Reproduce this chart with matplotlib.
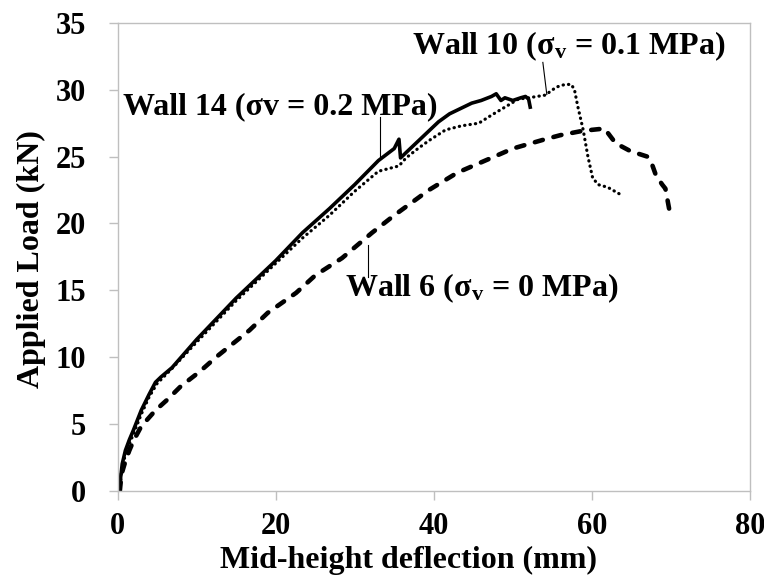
import matplotlib
matplotlib.use("Agg")
import matplotlib.pyplot as plt

# Wall 14 (sigma_v = 0.2 MPa) – solid
w14_x = [0.3, 0.4, 0.6, 1.0, 1.5, 2.0, 3.0, 4.0, 4.8, 5.5, 6.9, 10.0, 15.0, 20.0, 23.4,
         26.8, 30.0, 33.0, 35.0, 35.6, 35.8, 36.5, 40.6, 42.0, 44.8, 46.0, 47.3, 47.9,
         48.5, 49.0, 50.0, 51.0, 51.6, 52.0, 52.2]
w14_y = [0.0, 1.0, 2.0, 3.0, 3.8, 4.5, 6.0, 7.2, 8.1, 8.5, 9.2, 11.3, 14.4, 17.2, 19.3,
         21.1, 22.9, 24.7, 25.6, 26.3, 24.9, 25.3, 27.6, 28.2, 29.0, 29.2, 29.5, 29.7,
         29.2, 29.4, 29.2, 29.4, 29.5, 29.3, 28.7]

# Wall 10 (sigma_v = 0.1 MPa) – dotted
w10_x = [0.3, 0.5, 1.0, 1.5, 2.0, 3.0, 4.0, 5.0, 7.0, 10.0, 15.0, 20.0, 23.4, 26.8, 30.0,
         33.0, 35.6, 36.5, 38.0, 39.4, 41.5, 43.5, 45.7, 47.3, 49.0, 50.7, 52.0, 54.1,
         55.5, 56.6, 57.4, 57.8, 58.2, 58.9, 59.5, 60.1, 60.8, 62.0, 63.5]
w10_y = [0.0, 1.5, 2.7, 3.5, 4.2, 5.7, 7.0, 8.0, 9.2, 11.1, 14.2, 17.0, 18.9, 20.6, 22.4,
         23.9, 24.3, 24.9, 25.6, 26.2, 27.0, 27.3, 27.5, 28.1, 28.7, 29.3, 29.4, 29.6,
         30.2, 30.4, 30.4, 30.0, 28.8, 27.0, 25.0, 23.4, 22.9, 22.7, 22.2]

# Wall 6 (sigma_v = 0 MPa) – dashed
w6_x = [0.3, 0.5, 1.0, 1.5, 2.0, 3.0, 4.8, 6.3, 8.0, 10.4, 12.5, 14.6, 16.7, 19.0, 21.4,
        22.6, 25.0, 28.4, 31.6, 32.2, 35.0, 39.4, 43.0, 46.9, 50.0, 54.1, 56.0, 58.6,
        60.0, 61.6, 63.0, 64.9, 67.0, 67.5, 68.1, 68.9, 69.3, 69.8]
w6_y = [0.0, 1.2, 2.2, 3.0, 3.7, 4.8, 6.0, 6.8, 7.8, 8.9, 10.0, 11.0, 12.0, 13.3, 14.3,
        14.8, 16.1, 17.4, 19.0, 19.3, 20.6, 22.5, 23.8, 24.8, 25.6, 26.3, 26.6, 26.9,
        27.0, 27.1, 26.0, 25.4, 25.0, 24.6, 23.6, 22.9, 22.6, 21.0]

x_ticks = [0, 20, 40, 60, 80]
y_ticks = [0, 5, 10, 15, 20, 25, 30, 35]

plt.rcParams["font.family"] = ["Liberation Serif", "DejaVu Serif"]
plt.rcParams["font.weight"] = "bold"
plt.rcParams["mathtext.fontset"] = "custom"
plt.rcParams["mathtext.rm"] = "Liberation Serif:bold"
plt.rcParams["mathtext.it"] = "Liberation Serif:bold"
plt.rcParams["mathtext.bf"] = "Liberation Serif:bold"

W, H = 764, 577
fig = plt.figure(figsize=(W / 100, H / 100), dpi=100)
ax = fig.add_axes([117.5 / W, 1 - 490.5 / H, (750 - 117.5) / W, (490.5 - 23) / H])

ax.plot(w6_x, w6_y, color="black", lw=3.3, ls=(0, (1.8, 2.4)), dash_capstyle="round",
        solid_capstyle="round")
ax.plot(w10_x, w10_y, color="black", lw=2.3, ls=(0, (0.1, 1.6)), dash_capstyle="round")
ax.plot(w14_x, w14_y, color="black", lw=2.6, solid_joinstyle="round")

ax.set_xlim(0, 80)
ax.set_ylim(0, 35)
ax.set_xticks(x_ticks)
ax.set_yticks(y_ticks)

spine_col = "#bfbfbf"
for s in ax.spines.values():
    s.set_color(spine_col)
    s.set_linewidth(1.0)
ax.tick_params(axis="both", direction="out", length=6.5, width=1.0, color=spine_col,
               labelsize=22)
ax.tick_params(axis="x", pad=9)
ax.tick_params(axis="y", pad=16)
for lab in ax.get_xticklabels() + ax.get_yticklabels():
    lab.set_fontweight("bold")

# Axis titles
fig.text(408 / W, 1 - 568 / H, "Mid-height deflection (mm)", fontsize=23,
         fontweight="bold", ha="center", va="baseline")
fig.text(31 / W, 1 - 259 / H, "Applied Load (kN)", fontsize=23, fontweight="bold",
         ha="center", va="center", rotation=90)

txt_kw = dict(fontsize=23, fontweight="bold", color="black", ha="left", va="baseline")

# Wall 14 label with leader line
ax.text(0.7, 28.15, "Wall 14 (σv = 0.2 MPa)", **txt_kw)
ax.plot([33.2, 33.2], [28.0, 24.8], color="black", lw=0.8)

# Wall 10 label with leader line
ax.text(37.25, 32.65, "Wall 10 (σ$_\\mathrm{v}$ = 0.1 MPa)", **txt_kw)
ax.plot([53.8, 54.3], [32.05, 29.65], color="black", lw=0.8)

# Wall 6 label with leader line
ax.text(28.8, 14.53, "Wall 6 (σ$_\\mathrm{v}$ = 0 MPa)", **txt_kw)
ax.plot([31.7, 31.7], [18.4, 16.0], color="black", lw=0.8)

fig.savefig("out.png", dpi=100)
